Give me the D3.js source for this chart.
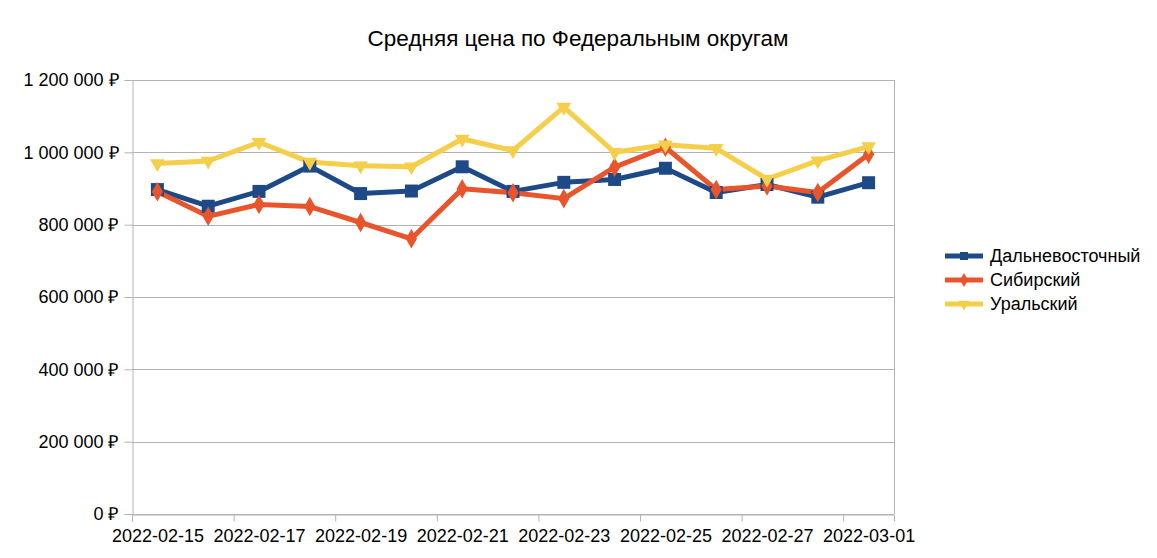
<!DOCTYPE html>
<html>
<head>
<meta charset="utf-8">
<script src="https://cdn.jsdelivr.net/npm/d3@7"></script>
<style>
  body { margin: 0; background: #fff; }
  svg { font-family: "Liberation Sans", Arial, sans-serif; }
</style>
</head>
<body>
<div id="chart"></div>
<script>
// dates (one per day)
const dates = ["2022-02-15", "2022-02-16", "2022-02-17", "2022-02-18", "2022-02-19",
               "2022-02-20", "2022-02-21", "2022-02-22", "2022-02-23", "2022-02-24",
               "2022-02-25", "2022-02-26", "2022-02-27", "2022-02-28", "2022-03-01"];

const farEast = [897000, 851000, 892000, 962000, 886000, 893000, 960000, 892000,
                 917000, 925000, 956000, 889000, 911000, 876000, 916000];
const siberian = [891000, 823000, 856000, 850000, 806000, 761000, 899000, 888000,
                  872000, 959000, 1014000, 897000, 907000, 889000, 995000];
const ural = [969000, 976000, 1028000, 973000, 963000, 960000, 1037000, 1005000,
              1125000, 1000000, 1021000, 1011000, 926000, 977000, 1016000];

const seriesNames = ["Дальневосточный", "Сибирский", "Уральский"];
const yTicks = [0, 200000, 400000, 600000, 800000, 1000000, 1200000];
const xTickDates = ["2022-02-15", "2022-02-17", "2022-02-19", "2022-02-21",
                    "2022-02-23", "2022-02-25", "2022-02-27", "2022-03-01"];

const colors = ["#1d4a86", "#e8542b", "#f5cf4a"];
const symbols = [d3.symbolSquare, d3.symbolDiamond, d3.symbolTriangle];

const width = 1157, height = 558;
const margin = { top: 80, right: 263, bottom: 44, left: 132 };

const parse = d3.utcParse("%Y-%m-%d");
const dayMs = 24 * 60 * 60 * 1000;

const svg = d3.select("#chart").append("svg")
    .attr("width", width)
    .attr("height", height);

const start = parse(dates[0]);
const end = new Date(parse(dates[dates.length - 1]).getTime() + dayMs);

const x = d3.scaleUtc()
    .domain([start, end])
    .range([margin.left, width - margin.right]);

const y = d3.scaleLinear()
    .domain([0, 1200000])
    .range([height - margin.bottom, margin.top]);

const dayWidth = x(new Date(start.getTime() + dayMs)) - x(start);

const fmt = d3.formatLocale({ thousands: " ", grouping: [3], decimal: ",", currency: ["", ""] }).format(",d");

// title
svg.append("text")
    .attr("x", 578)
    .attr("y", 46)
    .attr("text-anchor", "middle")
    .style("font-size", "22.5px")
    .text("Средняя цена по Федеральным округам");

// grid
svg.append("g")
    .selectAll("line")
    .data(yTicks)
    .join("line")
    .attr("x1", margin.left)
    .attr("x2", width - margin.right)
    .attr("y1", d => Math.round(y(d)) + 0.5)
    .attr("y2", d => Math.round(y(d)) + 0.5)
    .attr("stroke", "#b3b3b3");

// right border of plot area
svg.append("line")
    .attr("x1", width - margin.right + 0.5)
    .attr("x2", width - margin.right + 0.5)
    .attr("y1", margin.top)
    .attr("y2", height - margin.bottom)
    .attr("stroke", "#b3b3b3");

// y axis
const yAxis = svg.append("g")
    .attr("transform", "translate(" + (margin.left + 0.5) + ",0)")
    .call(d3.axisLeft(y).tickValues(yTicks).tickSize(8).tickPadding(6)
        .tickFormat(d => fmt(d) + " ₽"));
yAxis.selectAll("line").attr("stroke", "#b3b3b3");
yAxis.select(".domain").attr("stroke", "#b3b3b3");
yAxis.selectAll("text").style("font-size", "18px").attr("fill", "#000");
yAxis.attr("font-family", null);

// x axis
const xAxis = svg.append("g")
    .attr("transform", "translate(0," + (Math.round(y(0)) + 0.5) + ")")
    .call(d3.axisBottom(x).tickValues(xTickDates.map(parse)).tickSize(7).tickPadding(8)
        .tickFormat(d3.utcFormat("%Y-%m-%d")));
xAxis.selectAll("line").attr("stroke", "#b3b3b3");
xAxis.select(".domain").attr("stroke", "#b3b3b3");
xAxis.selectAll("text")
    .style("font-size", "18px")
    .attr("fill", "#000")
    .attr("dx", dayWidth / 2);
xAxis.attr("font-family", null);

// lines
const allSeries = [farEast, siberian, ural];
const px = d => x(new Date(parse(d).getTime() + dayMs / 2));

const line = d3.line()
    .x((v, i) => px(dates[i]))
    .y(v => y(v));

allSeries.forEach((vals, s) => {
    svg.append("path")
        .datum(vals)
        .attr("fill", "none")
        .attr("stroke", colors[s])
        .attr("stroke-width", 5)
        .attr("stroke-linejoin", "round")
        .attr("d", line);
});

allSeries.forEach((vals, s) => {
    svg.append("g")
        .selectAll("path")
        .data(vals)
        .join("path")
        .attr("transform", (v, i) => "translate(" + px(dates[i]) + "," + y(v) + ")" + (s === 2 ? " rotate(180)" : ""))
        .attr("d", d3.symbol().type(symbols[s]).size(s === 0 ? 169 : (s === 1 ? 110 : 95)))
        .attr("fill", colors[s]);
});

// legend
const legend = svg.append("g");
seriesNames.forEach((name, i) => {
    const ly = 256 + i * 24;
    legend.append("line")
        .attr("x1", 945).attr("x2", 983)
        .attr("y1", ly).attr("y2", ly)
        .attr("stroke", colors[i])
        .attr("stroke-width", 5);
    legend.append("path")
        .attr("transform", "translate(964," + ly + ")" + (i === 2 ? " rotate(180)" : ""))
        .attr("d", d3.symbol().type(symbols[i]).size(i === 0 ? 64 : 55))
        .attr("fill", colors[i]);
    legend.append("text")
        .attr("x", 990)
        .attr("y", ly + 6)
        .style("font-size", "18px")
        .text(name);
});
</script>
</body>
</html>
